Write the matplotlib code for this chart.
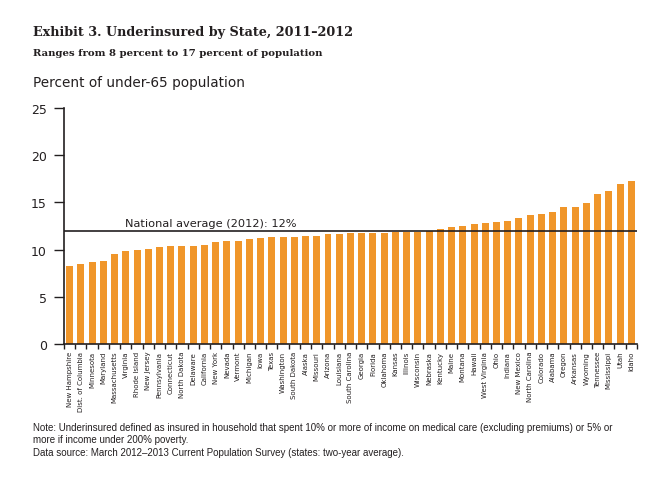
import numpy as np
import matplotlib
matplotlib.use("Agg")
import matplotlib.pyplot as plt

states = ["New Hampshire", "Dist. of Columbia", "Minnesota", "Maryland",
          "Massachusetts", "Virginia", "Rhode Island", "New Jersey",
          "Pennsylvania", "Connecticut", "North Dakota", "Delaware",
          "California", "New York", "Nevada", "Vermont", "Michigan", "Iowa",
          "Texas", "Washington", "South Dakota", "Alaska", "Missouri",
          "Arizona", "Louisiana", "South Carolina", "Georgia", "Florida",
          "Oklahoma", "Kansas", "Illinois", "Wisconsin", "Nebraska",
          "Kentucky", "Maine", "Montana", "Hawaii", "West Virginia", "Ohio",
          "Indiana", "New Mexico", "North Carolina", "Colorado", "Alabama",
          "Oregon", "Arkansas", "Wyoming", "Tennessee", "Mississippi", "Utah",
          "Idaho"]
pct = [8.3, 8.5, 8.7, 8.8, 9.5, 9.85, 9.95, 10.05, 10.3, 10.4, 10.4, 10.4,
       10.5, 10.8, 10.9, 10.95, 11.1, 11.2, 11.3, 11.3, 11.3, 11.45, 11.45,
       11.6, 11.7, 11.75, 11.75, 11.75, 11.75, 11.9, 11.9, 11.9, 11.95,
       12.2, 12.4, 12.5, 12.7, 12.8, 12.9, 13.0, 13.35, 13.65, 13.8, 14.0,
       14.5, 14.5, 14.95, 15.9, 16.2, 16.95, 17.3]
national_avg = 12
yticks = [0, 5, 10, 15, 20, 25]

orange = "#F0962A"
dark = "#231f20"

fig = plt.figure(figsize=(6.6, 4.85), dpi=100)
ax = fig.add_axes([0.097, 0.289, 0.868, 0.486])

x = np.arange(len(states))
ax.bar(x, pct, width=0.62, color=orange, zorder=2)
ax.axhline(national_avg, color=dark, lw=1.2, zorder=3)
ax.text(4.95, national_avg + 0.3, "National average (2012): 12%",
        fontsize=8.2, color=dark, family="DejaVu Sans", va="bottom")

ax.set_xlim(-0.5, len(states) - 0.5)
ax.set_ylim(0, 25)
ax.set_yticks(yticks)
ax.set_yticklabels([str(t) for t in yticks], fontsize=9, color=dark)
ax.tick_params(axis="y", length=7.5, width=1, pad=5, colors=dark)

ax.set_xticks(x)
ax.set_xticklabels(states, rotation=90, fontsize=5.0, color=dark)
ax.tick_params(axis="x", which="major", length=0, pad=5)
ax.set_xticks(np.arange(-0.5, len(states), 1), minor=True)
ax.tick_params(axis="x", which="minor", length=3.5, width=1, color=dark)

for s in ["top", "right"]:
    ax.spines[s].set_visible(False)
for s in ["left", "bottom"]:
    ax.spines[s].set_color(dark)
    ax.spines[s].set_linewidth(1.2)

fig.text(0.05, 0.932, "Exhibit 3. Underinsured by State, 2011\u20132012",
         fontsize=9.2, fontweight="bold", family="DejaVu Serif", color=dark,
         va="center")
fig.text(0.05, 0.889, "Ranges from 8 percent to 17 percent of population",
         fontsize=7.3, fontweight="bold", family="DejaVu Serif", color=dark,
         va="center")
fig.text(0.05, 0.829, "Percent of under-65 population", fontsize=9.8,
         color=dark, va="center")

notes = ("Note: Underinsured defined as insured in household that spent 10% or more "
         "of income on medical care (excluding premiums) or 5% or\n"
         "more if income under 200% poverty.\n"
         "Data source: March 2012\u20132013 Current Population Survey "
         "(states: two-year average).")
fig.text(0.05, 0.128, notes, fontsize=7.0, family="Liberation Sans",
         color=dark, va="top", linespacing=1.3)

fig.savefig("out.png", dpi=100, facecolor="white")
